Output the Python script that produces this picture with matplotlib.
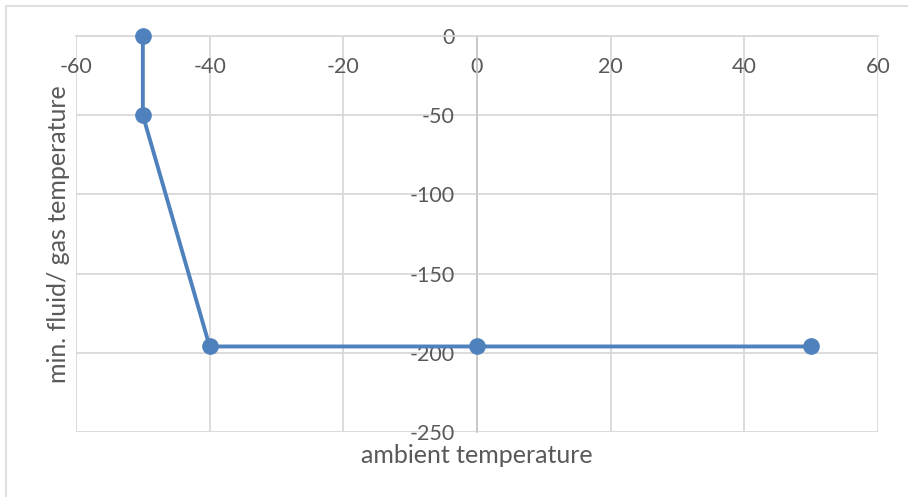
import numpy as np
import matplotlib.pyplot as plt
from matplotlib.patches import Rectangle

# data
ambient = [-50, -50, -40, 0, 50]
min_fluid = [0, -50, -196, -196, -196]
x_ticks = [-60, -40, -20, 0, 20, 40, 60]
y_ticks = [0, -50, -100, -150, -200, -250]

plt.rcParams['font.family'] = ['Lato', 'DejaVu Sans']
plt.rcParams['axes.unicode_minus'] = False
text_col = '#595959'
grid_col = '#d9d9d9'
blue = '#4f81bd'
tick_fs = 15.5
label_fs = 18

fig = plt.figure(figsize=(9.08, 4.97), dpi=100)
# outer chart border (only top and left visible in the crop)
fig.patches.append(Rectangle((6/908, -0.1), 2, 1 - 6/497 + 0.1, transform=fig.transFigure,
                             fill=False, edgecolor='#d9d9d9', linewidth=1.2))

ax = fig.add_axes([76/908, 1 - 432/497, 802/908, 396/497])
ax.set_xlim(-60, 60)
ax.set_ylim(-250, 0)
ax.set_xticks(x_ticks)
ax.set_yticks(y_ticks)
ax.grid(True, color=grid_col, linewidth=1.3, zorder=0)
ax.set_axisbelow(True)

for s in ['right', 'bottom']:
    ax.spines[s].set_visible(False)
ax.spines['top'].set_color(grid_col)
ax.spines['top'].set_linewidth(1.3)
ax.spines['left'].set_position(('data', 0))
ax.spines['left'].set_color('#c8c8c8')
ax.spines['left'].set_linewidth(1.3)

ax.tick_params(axis='x', length=0, bottom=False, labelbottom=False, labeltop=True,
               pad=-29.5, labelsize=tick_fs, labelcolor=text_col)
ax.tick_params(axis='y', length=0, pad=16, labelsize=tick_fs, labelcolor=text_col)

ax.plot(ambient, min_fluid, color=blue, linewidth=2.8, marker='o', markersize=11,
        zorder=3, clip_on=False)

ax.set_xlabel('ambient temperature', fontsize=label_fs, color=text_col)
ax.xaxis.set_label_coords(0.5, -0.03)
ax.set_ylabel('min. fluid/ gas temperature', fontsize=label_fs, color=text_col)
ax.yaxis.set_label_coords(-0.008, 0.5)

fig.savefig('out.png', dpi=100)
